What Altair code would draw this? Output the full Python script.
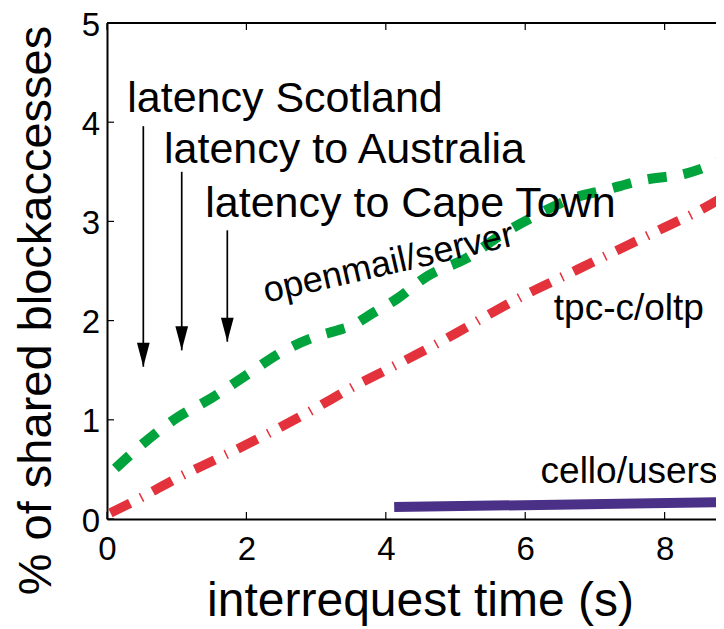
import altair as alt
import pandas as pd

FONT = "Liberation Sans"

# ---- data ----
green_x = [0.12, 0.5, 1.0, 1.5, 2.0, 2.5, 3.0, 3.3, 3.55, 3.73, 4.16, 4.6, 5.16, 5.69, 6.1, 6.67, 7.17, 7.72, 8.29, 8.85]
green_y = [0.51, 0.75, 1.02, 1.22, 1.45, 1.68, 1.84, 1.9, 1.96, 2.04, 2.22, 2.45, 2.63, 2.88, 3.04, 3.23, 3.32, 3.42, 3.48, 3.62]

red_x = [0.05, 0.5, 1.0, 1.5, 2.0, 2.5, 3.0, 3.5, 4.0, 4.5, 5.0, 5.5, 6.0, 6.5, 7.0, 7.5, 8.0, 8.5, 8.85]
red_y = [0.06, 0.22, 0.41, 0.58, 0.75, 0.93, 1.12, 1.32, 1.5, 1.68, 1.87, 2.07, 2.26, 2.43, 2.6, 2.77, 2.94, 3.11, 3.25]

purple_x = [4.12, 8.85]
purple_y = [0.12, 0.17]

x_ticks = [0, 2, 4, 6, 8]
y_ticks = [0, 1, 2, 3, 4, 5]

ann_text = ["latency Scotland", "latency to Australia", "latency to Cape Town"]
ann_x = [0.29, 0.818, 1.41]
ann_y = [4.10, 3.585, 3.04]

arrow_x = [0.521, 1.072, 1.726]
arrow_top = [3.96, 3.50, 2.91]
arrow_tip = [1.535, 1.70, 1.787]

series_labels = ["openmail/server", "tpc-c/oltp", "cello/users"]
label_x = [4.075, 6.41, 6.22]
label_y = [2.47, 2.006, 0.363]

X_MAX = 8.737
W, H = 609, 496

xs = alt.Scale(domain=[0, X_MAX], nice=False, zero=False)
ys = alt.Scale(domain=[0, 5], nice=False, zero=False)

x_axis = alt.Axis(values=x_ticks, ticks=False, tickSize=0, grid=False,
                  labelFontSize=33, labelPadding=14, labelColor="black", labelFont=FONT,
                  labelFlush=False, labelOverlap=False, format="d",
                  domainColor="black", domainWidth=2,
                  title="interrequest time (s)", titleFontSize=48, titleFont=FONT,
                  titleFontWeight="normal", titleColor="black",
                  titleX=313, titleY=96, titleBaseline="alphabetic", titleAlign="center")
y_axis = alt.Axis(values=y_ticks, ticks=False, tickSize=0, grid=False,
                  labelFontSize=33, labelPadding=7.5, labelOffset=2, labelColor="black", labelFont=FONT,
                  labelFlush=False, labelOverlap=False, format="d",
                  domainColor="black", domainWidth=2,
                  title="% of shared blockaccesses", titleFontSize=47, titleFont=FONT,
                  titleFontWeight="normal", titleColor="black", titleAngle=270,
                  titleX=-57, titleY=287, titleBaseline="alphabetic", titleAlign="center")


def X(field="x"):
    return alt.X(f"{field}:Q", scale=xs, axis=x_axis)


def Y(field="y"):
    return alt.Y(f"{field}:Q", scale=ys, axis=y_axis)


def line(xv, yv, color, width, dash=None):
    df = pd.DataFrame({"x": xv, "y": yv})
    kw = dict(color=color, strokeWidth=width, strokeCap="butt", clip=True, interpolate="monotone")
    if dash:
        kw["strokeDash"] = dash
    return alt.Chart(df).mark_line(**kw).encode(x=X(), y=Y())


green = line(green_x, green_y, "#00a33c", 10, [19, 17])
red = line(red_x, red_y, "#e3323c", 9.5, [22, 12, 1.5, 12])
purple = line(purple_x, purple_y, "#4b3087", 10)

xt = pd.DataFrame({"x": x_ticks})
yt = pd.DataFrame({"y": y_ticks})
tick_bottom = alt.Chart(xt).mark_rule(color="black", strokeWidth=1.2).encode(
    x=X(), y=alt.value(H), y2=alt.value(H - 7))
tick_top = alt.Chart(xt).mark_rule(color="black", strokeWidth=1.2).encode(
    x=X(), y=alt.value(0), y2=alt.value(7))
tick_left = alt.Chart(yt).mark_rule(color="black", strokeWidth=1.2).encode(
    y=Y(), x=alt.value(0), x2=alt.value(7))
top_border = alt.Chart(xt).mark_rule(color="black", strokeWidth=2).encode(
    x=alt.value(0), x2=alt.value(W), y=alt.value(0))

arrows_df = pd.DataFrame({"x": arrow_x, "y": arrow_top, "y2": arrow_tip})
arrow_lines = alt.Chart(arrows_df).mark_rule(color="black", strokeWidth=1.7).encode(
    x=X(), y=Y(), y2="y2:Q")
arrow_heads = alt.Chart(pd.DataFrame({"x": arrow_x, "y": arrow_tip})).mark_point(
    shape="M-0.53,-2L0.53,-2L0,0Z", size=576, filled=True, color="black",
    opacity=1, strokeWidth=0).encode(x=X(), y=Y())

ann = alt.Chart(pd.DataFrame({"x": ann_x, "y": ann_y, "t": ann_text})).mark_text(
    align="left", baseline="alphabetic", fontSize=43, font=FONT, color="black").encode(
    x=X(), y=Y(), text="t:N")

lab0 = alt.Chart(pd.DataFrame({"x": label_x[:1], "y": label_y[:1], "t": series_labels[:1]})).mark_text(
    align="center", baseline="alphabetic", fontSize=36, font=FONT, color="black", angle=347).encode(
    x=X(), y=Y(), text="t:N")
lab12 = alt.Chart(pd.DataFrame({"x": label_x[1:], "y": label_y[1:], "t": series_labels[1:]})).mark_text(
    align="left", baseline="alphabetic", fontSize=37, font=FONT, color="black").encode(
    x=X(), y=Y(), text="t:N")

chart = alt.layer(
    top_border, tick_bottom, tick_top, tick_left,
    purple, red, green,
    arrow_lines, arrow_heads, ann, lab0, lab12,
).properties(
    width=W, height=H,
    autosize=alt.AutoSizeParams(type="none"),
    padding={"left": 99, "top": 15, "right": 0, "bottom": 110},
    background="white",
).configure_view(stroke=None).configure(font=FONT)

chart.save("out.html", embed_options={"renderer": "svg", "actions": False})
